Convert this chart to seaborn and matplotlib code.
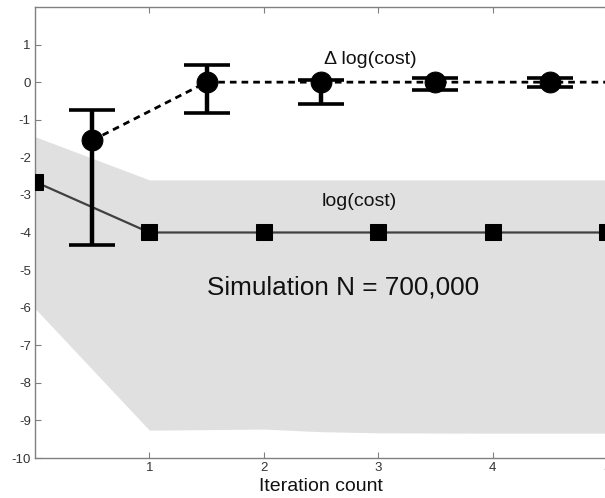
import numpy as np
import pandas as pd
import matplotlib
matplotlib.use("Agg")
import matplotlib.pyplot as plt
import seaborn as sns

# ---- data ----
cost_x = [0, 1, 2, 3, 4, 5]
cost_y = [-2.65, -4.0, -4.0, -4.0, -4.0, -4.0]
band_x = [0, 1, 2, 2.5, 3, 4, 5]
band_upper = [-1.45, -2.6, -2.6, -2.6, -2.6, -2.6, -2.6]
band_lower = [-6.02, -9.26, -9.23, -9.30, -9.33, -9.34, -9.34]

delta_x = [0.5, 1.5, 2.5, 3.5, 4.5, 5.5]
delta_y = [-1.55, 0.0, 0.0, 0.0, 0.0, 0.0]
delta_hi = [-0.75, 0.46, 0.05, 0.10, 0.10, 0.10]
delta_lo = [-4.34, -0.82, -0.59, -0.21, -0.14, -0.14]

x_ticks = [1, 2, 3, 4, 5]
y_ticks = list(range(-10, 2))

sns.set_theme(style="white")
plt.rcParams["font.family"] = ["Liberation Sans", "DejaVu Sans"]

fig = plt.figure(figsize=(6.05, 4.98), dpi=100)
ax = fig.add_axes([35 / 605, 40 / 498, (607 - 35) / 605, (458 - 7) / 498])

ax.fill_between(band_x, band_lower, band_upper, color="#e0e0e0", lw=0, zorder=1)

df_cost = pd.DataFrame({"x": cost_x, "y": cost_y})
sns.lineplot(data=df_cost, x="x", y="y", ax=ax, color="#404040", lw=1.6,
             marker="s", markersize=11, markerfacecolor="black",
             markeredgecolor="black", zorder=3)

df_delta = pd.DataFrame({"x": delta_x, "y": delta_y})
sns.lineplot(data=df_delta, x="x", y="y", ax=ax, color="black", lw=2.0,
             linestyle=(0, (2.4, 1.8)), marker="o", markersize=15,
             markerfacecolor="black", markeredgecolor="black", zorder=4)

dy = np.array(delta_y)
yerr = [dy - np.array(delta_lo), np.array(delta_hi) - dy]
ax.errorbar(delta_x, delta_y, yerr=yerr, fmt="none", ecolor="black",
            elinewidth=3.2, capsize=16.5, capthick=2.6, zorder=5)

ax.set_xlim(0, 5)
ax.set_ylim(-10, 2)
ax.set_xticks(x_ticks)
ax.set_yticks(y_ticks)
ax.set_xticklabels([str(t) for t in x_ticks])
ax.set_yticklabels([str(t) for t in y_ticks])
ax.tick_params(axis="both", direction="in", length=4, width=0.8,
               color="#808080", labelsize=9.5, labelcolor="#333333",
               top=True, right=False, left=True, bottom=True, pad=3)
for s in ax.spines.values():
    s.set_color("#808080")
    s.set_linewidth(1.0)
    s.set_visible(True)

ax.set_xlabel("Iteration count", fontsize=14, color="#111111", labelpad=3)
ax.set_ylabel("")

ax.text(2.93, 0.6, "\u0394 log(cost)", fontsize=14, ha="center", va="center",
        color="#111111", zorder=6)
ax.text(2.83, -3.18, "log(cost)", fontsize=14, ha="center", va="center",
        color="#111111", zorder=6)
ax.text(1.5, -5.46, "Simulation N = 700,000", fontsize=18.8, ha="left",
        va="center", color="#111111", zorder=6)

fig.savefig("out.png", dpi=100)
